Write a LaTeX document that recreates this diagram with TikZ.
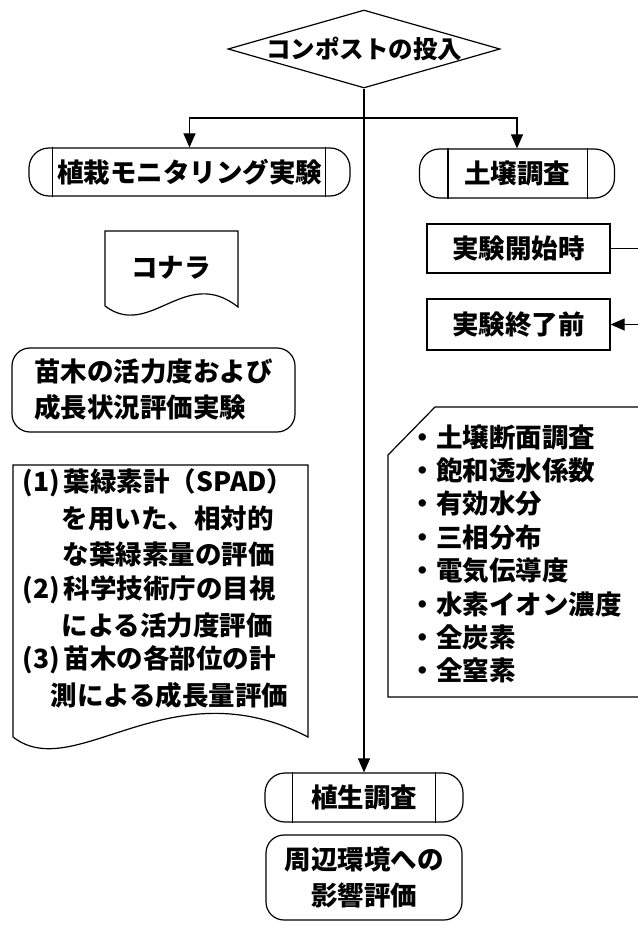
\documentclass[tikz,border=0pt]{standalone}
\usepackage{fontspec}
\setmainfont{Noto Sans CJK JP}
\usetikzlibrary{shapes.geometric,arrows.meta}
\begin{document}
\begin{tikzpicture}[x=1pt,y=-1pt,line width=1.2pt,
  font=\fontsize{26.5}{36}\selectfont\bfseries,
  arr/.style={-{Triangle[length=14pt,width=12pt]}},
  term/.style={draw,rounded corners=20pt,inner sep=0pt},
  rbox/.style={draw,rounded corners=18pt,inner sep=0pt},
  sbox/.style={draw,inner sep=0pt},
  txt/.style={inner sep=0pt,anchor=west}]
\useasboundingbox (0,0) rectangle (637,925);
% decision
\node[diamond,draw,minimum width=272pt,minimum height=78pt,inner sep=0pt] (d) at (364,49) {};
\node[font=\fontsize{24.5}{24}\selectfont\bfseries] (dt) at (d.center) {コンポストの投入};
\coordinate (j) at (364,118);
% terminals
\node[term,minimum width=321pt,minimum height=48pt] (plant) at (189.5,172) {植栽モニタリング実験};
\draw (plant.north west) ++(24pt,0) -- ([xshift=24pt]plant.south west);
\draw (plant.north east) ++(-25pt,0) -- ([xshift=-25pt]plant.south east);
\node[term,minimum width=195pt,minimum height=49pt] (soil) at (517,173.5) {土壌調査};
\draw (soil.north west) ++(29pt,0) -- ([xshift=29pt]soil.south west);
\draw (soil.north east) ++(-28pt,0) -- ([xshift=-28pt]soil.south east);
\node[term,minimum width=198pt,minimum height=49pt] (veg) at (364,797.5) {植生調査};
\draw (veg.north west) ++(28pt,0) -- ([xshift=28pt]veg.south west);
\draw (veg.north east) ++(-28pt,0) -- ([xshift=-28pt]veg.south east);
% connectors from decision
\draw[arr] (d.south) -- (veg.north);
\draw[arr] (j) -| (plant.north);
\draw[arr] (j) -| (soil.north);
% right boxes
\node[sbox,minimum width=183pt,minimum height=49pt] (start) at (518.5,248.5) {実験開始時};
\node[sbox,minimum width=183pt,minimum height=51pt] (end) at (518.5,324.5) {実験終了前};
\draw[arr] (start.east) -- ++(45pt,0) |- (end.east);
% konara document
\draw (105,306) -- (105,231) -- (238,231) -- (238,307)
  .. controls (185,265) and (150,340) .. (105,306);
\node (konara) at (171,268) {コナラ};
% evaluation box
\node[rbox,minimum width=283pt,minimum height=84pt,align=left] (eval) at (153.5,390) {苗木の活力度および\\成長状況評価実験};
% large document
\draw (13,737) -- (13,465) -- (308,465) -- (308,737)
  .. controls (170,665) and (75,785) .. (13,737);
\node[txt] (t1) at (22,483) {(1)\kern4pt葉緑素計（SPAD）};
\node[txt] (t2) at (61,518.5) {を用いた、相対的};
\node[txt] (t3) at (62,554) {な葉緑素量の評価};
\node[txt] (t4) at (22,589.5) {(2)\kern4pt科学技術庁の目視};
\node[txt] (t5) at (61,625) {による活力度評価};
\node[txt] (t6) at (22,660) {(3)\kern4pt苗木の各部位の計};
\node[txt] (t7) at (50,695) {測による成長量評価};
% soil list
\draw (660,407) -- (435,407) -- (388,455) -- (388,697) -- (660,697);
\node[txt] (s1) at (409,437) {・土壌断面調査};
\node[txt] (s2) at (409,470.4) {・飽和透水係数};
\node[txt] (s3) at (409,503.8) {・有効水分};
\node[txt] (s4) at (409,537.2) {・三相分布};
\node[txt] (s5) at (409,570.6) {・電気伝導度};
\node[txt] (s6) at (409,604) {・水素イオン濃度};
\node[txt] (s7) at (409,637.4) {・全炭素};
\node[txt] (s8) at (409,670.8) {・全窒素};
% environment box
\node[rbox,minimum width=196pt,minimum height=85pt,align=center] (env) at (364,877.5) {周辺環境への\\影響評価};
\end{tikzpicture}
\end{document}
